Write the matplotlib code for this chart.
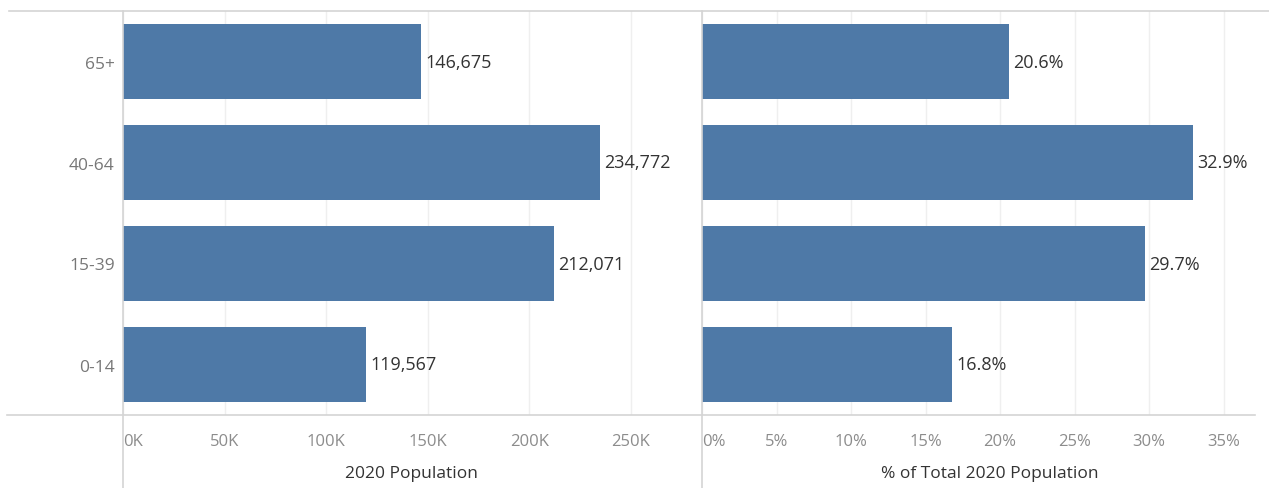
import matplotlib
matplotlib.use('Agg')
import matplotlib.pyplot as plt
from matplotlib.lines import Line2D
from matplotlib.ticker import FuncFormatter


### Data

age_groups = ['0-14', '15-39', '40-64', '65+']
population = [119567, 212071, 234772, 146675]
total = sum(population)
share = [p / total * 100 for p in population]

pop_ticks = [0, 50000, 100000, 150000, 200000, 250000]
pct_ticks = [0, 5, 10, 15, 20, 25, 30, 35]


### Style

W, H = 1269, 489
bar_color = '#4e79a7'
grid_color = '#efefef'
line_color = '#d4d4d4'
tick_color = '#8c8c8c'
label_color = '#333333'

plt.rcParams['font.family'] = ['Open Sans', 'DejaVu Sans']

fig = plt.figure(figsize=(W / 100, H / 100), dpi=100)

top, bottom = 12, 416
ax_l = fig.add_axes([123 / W, (H - bottom) / H, (700 - 123) / W, (bottom - top) / H])
ax_r = fig.add_axes([702 / W, (H - bottom) / H, (1255 - 702) / W, (bottom - top) / H])

ypos = list(range(len(age_groups)))


def style_axis(ax, ticks, xmax, fmt, title, title_x):
    ax.set_xlim(0, xmax)
    ax.set_ylim(-0.5, len(age_groups) - 0.5)
    ax.set_xticks(ticks)
    ax.xaxis.set_major_formatter(FuncFormatter(fmt))
    ax.tick_params(axis='x', length=0, pad=13, labelsize=12, labelcolor=tick_color)
    ax.grid(axis='x', color=grid_color, linewidth=1)
    ax.set_axisbelow(True)
    for s in ax.spines.values():
        s.set_visible(False)
    ax.set_xlabel(title, fontsize=12.5, color=label_color)
    ax.xaxis.set_label_coords(title_x, -0.125)
    # first tick label left-aligned like Tableau
    ax.get_xticklabels()[0].set_horizontalalignment('left')


# Left panel: population
ax_l.barh(ypos, population, height=0.74, color=bar_color)
for y, v in zip(ypos, population):
    ax_l.annotate(f'{v:,}', (v, y), xytext=(3, 0), textcoords='offset points',
                  va='center', ha='left', fontsize=13, color=label_color)
style_axis(ax_l, pop_ticks, 284000, lambda v, p: f'{int(v / 1000)}K', '2020 Population', 0.5)
ax_l.set_yticks(ypos)
ax_l.set_yticklabels(age_groups)
ax_l.tick_params(axis='y', length=0, pad=6, labelsize=12.5, labelcolor='#777777')

# Right panel: share of total
ax_r.barh(ypos, share, height=0.74, color=bar_color)
for y, v in zip(ypos, share):
    ax_r.annotate(f'{v:.1f}%', (v, y), xytext=(3, 0), textcoords='offset points',
                  va='center', ha='left', fontsize=13, color=label_color)
style_axis(ax_r, pct_ticks, 37.1, lambda v, p: f'{int(v)}%', '% of Total 2020 Population', 0.52)
ax_r.set_yticks([])


# Frame lines (Tableau-style)
def fig_line(x0, y0, x1, y1):
    fig.add_artist(Line2D([x0 / W, x1 / W], [1 - y0 / H, 1 - y1 / H],
                          color=line_color, linewidth=1.2, transform=fig.transFigure))


fig_line(9, top, W, top)
fig_line(7, bottom, 1255, bottom)
fig_line(123, top, 123, H)
fig_line(702, top, 702, H)

fig.savefig('out.png', dpi=100)
